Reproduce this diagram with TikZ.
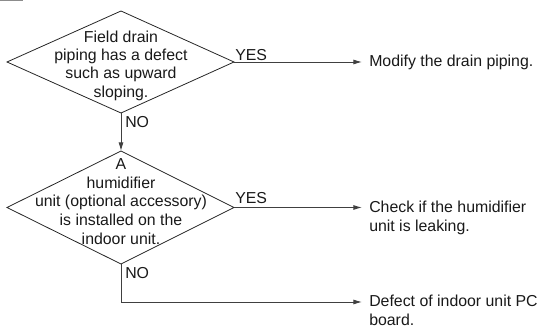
\documentclass[tikz,border=0pt]{standalone}
\usepackage{fontspec}
\setmainfont{Liberation Sans}
\usetikzlibrary{arrows.meta}
\tikzset{
  px/.style={x=0.75pt,y=-0.75pt},
  dec/.style={draw=black!85,line width=0.6pt,fill=none},
  conn/.style={draw=black!75,line width=0.7pt},
  arr/.style={conn,-{Latex[length=6.5pt,width=3.8pt]}},
  txt/.style={inner sep=0pt,font=\fontsize{11.9pt}{14pt}\selectfont,text=black!90},
  ctr/.style={txt,align=center,anchor=center},
  lft/.style={txt,align=left,anchor=west}
}
\begin{document}
\begin{tikzpicture}[px]
\useasboundingbox (0,0) rectangle (540,327);
\draw[draw=black!45,line width=0.75pt] (0,0.4) -- (23,0.4);
\draw[dec] (7,62) coordinate (d1l) -- (121,11) coordinate (d1t) -- (234,62) coordinate (d1r) -- (121,113) coordinate (d1b) -- cycle;
\draw[dec] (7,207.5) coordinate (d2l) -- (121,151) coordinate (d2t) -- (234,207.5) coordinate (d2r) -- (121,264) coordinate (d2b) -- cycle;
\node[ctr] (t1) at (121,37) {Field drain};
\node[ctr] (t2) at (121,56) {piping has a defect};
\node[ctr] (t3) at (121,74.5) {such as upward};
\node[ctr] (t4) at (121,93.5) {sloping.};
\node[ctr] (u1) at (121,164) {A};
\node[ctr] (u2) at (121,183) {humidifier};
\node[ctr] (u3) at (121,202) {unit (optional accessory)};
\node[ctr] (u4) at (121,220) {is installed on the};
\node[ctr] (u5) at (121,239) {indoor unit.};
\node[lft] (y1) at (235,55) {YES};
\node[lft] (n1) at (125,122.5) {NO};
\node[lft] (y2) at (235,198) {YES};
\node[lft] (n2) at (125,273.5) {NO};
\node[lft] (m1) at (369,62) {Modify the drain piping.};
\node[lft,anchor=north west] (m2) at (369,201) {Check if the humidifier\\unit is leaking.};
\node[lft,anchor=north west] (m3) at (369,295) {Defect of indoor unit PC\\board.};
\coordinate (e1) at (362,62);
\coordinate (e2) at (362,207.5);
\coordinate (e3) at (362,302);
\coordinate (c3) at (121,302);
\draw[arr] (d1r) -- (e1);
\draw[arr] (d1b) -- (d2t);
\draw[arr] (d2r) -- (e2);
\draw[arr] (d2b) -- (c3) -- (e3);
\end{tikzpicture}
\end{document}
